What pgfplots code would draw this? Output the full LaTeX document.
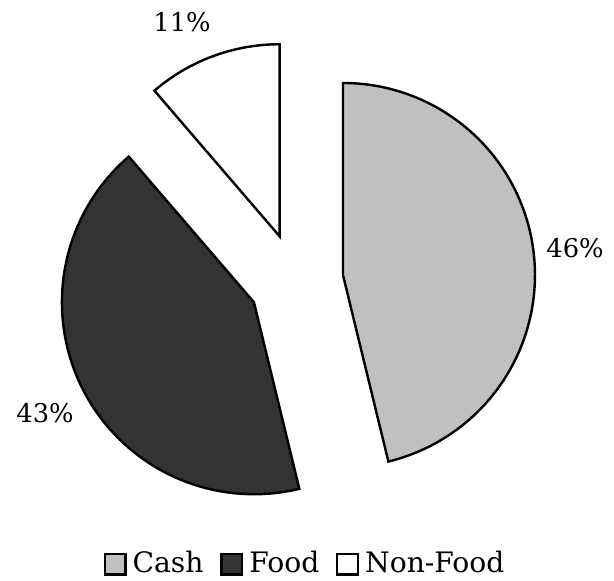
\documentclass[border=0pt]{standalone}
\usepackage{pgfplots}
\pgfplotsset{compat=1.18}
\usepackage{fontspec}
\setmainfont{DejaVu Serif}
\definecolor{cashgray}{RGB}{192,192,192}
\definecolor{fooddark}{RGB}{51,51,51}
\begin{document}
\begin{tikzpicture}
  % shares in percent
  \def\vCash{46.2}
  \def\vFood{42.5}
  \def\vNon{11.3}
  % pie geometry (in pixel-like axis units)
  \def\R{192}
  \def\E{47.3}
  \def\cx{296}
  \def\cy{-280.6}
  \pgfmathsetmacro\aA{90}
  \pgfmathsetmacro\aB{\aA-3.6*\vCash}
  \pgfmathsetmacro\aC{\aB-3.6*\vFood}
  \pgfmathsetmacro\aD{\aC-3.6*\vNon}
  \pgfmathsetmacro\mA{(\aA+\aB)/2}
  \pgfmathsetmacro\mB{(\aB+\aC)/2}
  \pgfmathsetmacro\mC{(\aC+\aD)/2}
  \pgfmathsetmacro\xA{\cx+\E*cos(\mA)}
  \pgfmathsetmacro\yA{\cy+\E*sin(\mA)}
  \pgfmathsetmacro\xB{\cx+\E*cos(\mB)}
  \pgfmathsetmacro\yB{\cy+\E*sin(\mB)}
  \pgfmathsetmacro\xC{\cx+\E*cos(\mC)}
  \pgfmathsetmacro\yC{\cy+\E*sin(\mC)}
  \begin{axis}[
    scale only axis,
    width=202.6pt, height=191.4pt,
    xmin=0, xmax=614, ymin=-580, ymax=0,
    hide axis, clip=false,
    legend columns=-1,
    legend style={draw=none, font=\fontsize{9.3}{11}\selectfont,
      at={(axis cs:307,-564)}, anchor=center, inner sep=0pt,
      /tikz/every even column/.append style={column sep=3.5pt}},
    legend image code/.code={\draw[#1, draw=black, line width=0.8pt]
      (0pt,-3.4pt) rectangle (6.8pt,3.4pt);}]
    \addplot[fill=cashgray, draw=black, line width=0.8pt,
      domain=\aB:\aA, samples=120]
      ({\xA+\R*cos(x)}, {\yA+\R*sin(x)}) -- (axis cs:\xA,\yA) -- cycle;
    \addlegendentry{Cash}
    \addplot[fill=fooddark, draw=black, line width=0.8pt,
      domain=\aC:\aB, samples=120]
      ({\xB+\R*cos(x)}, {\yB+\R*sin(x)}) -- (axis cs:\xB,\yB) -- cycle;
    \addlegendentry{Food}
    \addplot[fill=white, draw=black, line width=0.8pt,
      domain=\aD:\aC, samples=40]
      ({\xC+\R*cos(x)}, {\yC+\R*sin(x)}) -- (axis cs:\xC,\yC) -- cycle;
    \addlegendentry{Non-Food}
    \node[font=\fontsize{8.5}{10}\selectfont] at (axis cs:575,-248) {46\%};
    \node[font=\fontsize{8.5}{10}\selectfont] at (axis cs:45,-413) {43\%};
    \node[font=\fontsize{8.5}{10}\selectfont] at (axis cs:182,-22) {11\%};
  \end{axis}
  \pgfresetboundingbox
  \path (0,0) rectangle (202.6pt,191.4pt);
\end{tikzpicture}
\end{document}
